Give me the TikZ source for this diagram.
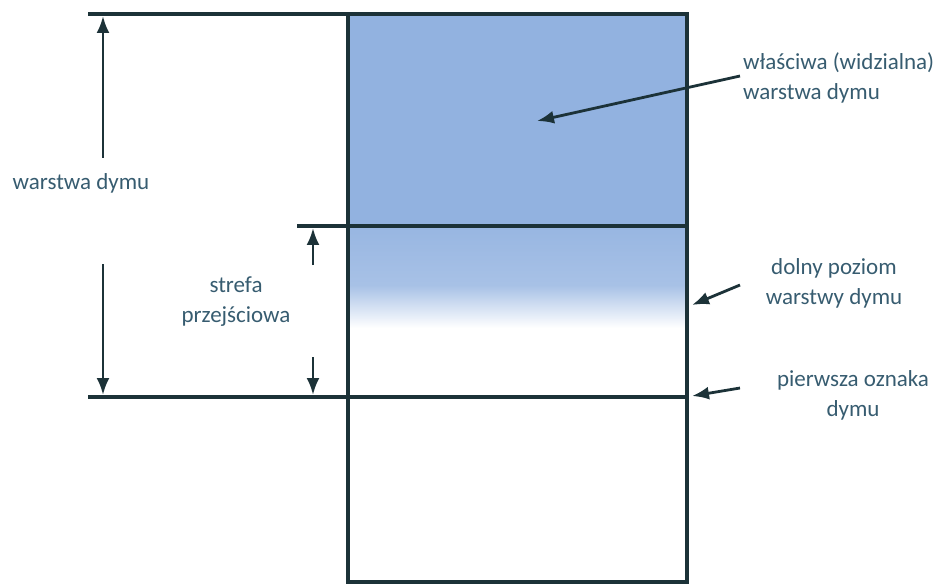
\documentclass[tikz,border=0pt]{standalone}
\usepackage{fontspec}
\setmainfont{Carlito}
\usetikzlibrary{arrows.meta}
\definecolor{smoke}{RGB}{146,178,224}
\definecolor{ink}{RGB}{28,50,56}
\definecolor{txt}{RGB}{55,92,112}
\begin{document}
\begin{tikzpicture}[x=1pt,y=-1pt,
  frame/.style={draw=ink,line width=3.2pt},
  arr/.style={draw=ink,line width=2.8pt,-{Latex[length=17pt,width=13pt]}},
  lbl/.style={text=txt,font=\fontsize{23}{30}\selectfont,align=center,inner sep=0pt},
]
\useasboundingbox (0,0) rectangle (936,585);
% smoke
\fill[smoke] (348,14) rectangle (687,226);
\shade[top color=smoke!95, bottom color=smoke!80] (348,226) rectangle (687,286);
\shade[top color=smoke!80, middle color=smoke!45, bottom color=white] (348,285.5) rectangle (687,328);
% coordinates
\coordinate (topL) at (88,14);
\coordinate (topR) at (687,14);
\coordinate (midL) at (297,226);
\coordinate (midR) at (687,226);
\coordinate (lowL) at (88,397);
\coordinate (lowR) at (687,397);
\coordinate (boxTL) at (348,14);
\coordinate (boxBR) at (687,582);
% frame
\draw[frame] (boxTL) rectangle (boxBR);
\draw[frame] (topL) -- (topR);
\draw[frame] (midL) -- (midR);
\draw[frame] (lowL) -- (lowR);
% labels
\node[lbl] (wd) at (81,183) {warstwa dymu};
\node[lbl] (sp) at (236,302) {strefa\\przejściowa};
\node[lbl,align=left,anchor=west] (ww) at (743,78) {właściwa (widzialna)\\warstwa dymu};
\node[lbl] (dp) at (834,283) {dolny poziom\\warstwy dymu};
\node[lbl] (po) at (853,395) {pierwsza oznaka\\dymu};
% arrow ends
\coordinate (a1s) at (103,158); \coordinate (a1e) at (103,16);
\coordinate (a2s) at (103,264); \coordinate (a2e) at (103,395);
\coordinate (a3s) at (313,265); \coordinate (a3e) at (313,228);
\coordinate (a4s) at (313,357); \coordinate (a4e) at (313,395);
\coordinate (r1s) at (740,76);  \coordinate (r1e) at (537,121);
\coordinate (r2s) at (740,285); \coordinate (r2e) at (692,305);
\coordinate (r3s) at (740,388); \coordinate (r3e) at (692,396);
\draw[arr] (a1s) -- (a1e);
\draw[arr] (a2s) -- (a2e);
\draw[arr] (a3s) -- (a3e);
\draw[arr] (a4s) -- (a4e);
\draw[arr] (r1s) -- (r1e);
\draw[arr] (r2s) -- (r2e);
\draw[arr] (r3s) -- (r3e);
\end{tikzpicture}
\end{document}
